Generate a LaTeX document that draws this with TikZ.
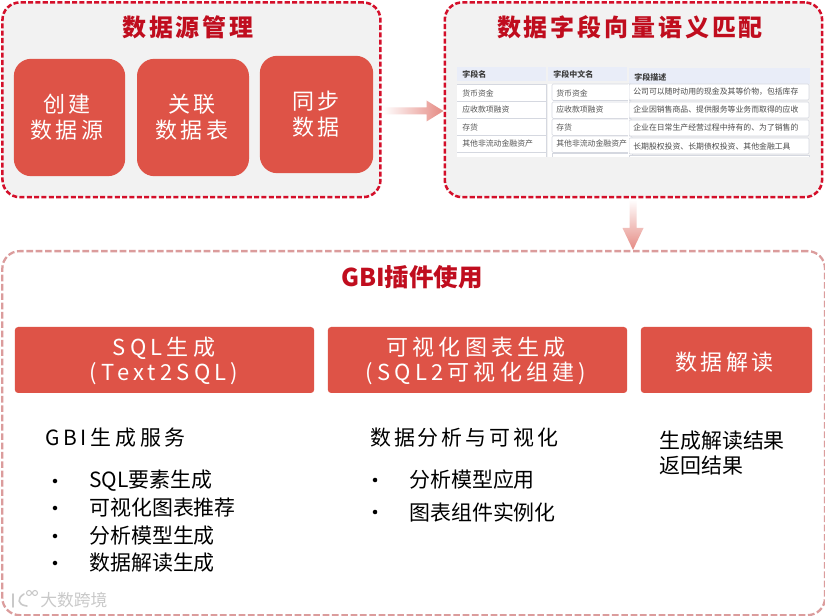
\documentclass[tikz,border=0pt]{standalone}
\usepackage{fontspec}
\setmainfont{Noto Sans CJK SC}
\newfontfamily\fsp[LetterSpace=14]{Noto Sans CJK SC}
\newfontfamily\fhd[LetterSpace=19]{Noto Sans CJK SC}
\newfontfamily\fgb[LetterSpace=18]{Noto Sans CJK SC}
\newfontfamily\ftt[LetterSpace=12]{Noto Sans CJK SC}
\usetikzlibrary{calc}
\definecolor{crim}{HTML}{D40F2A}
\definecolor{tomato}{HTML}{DE5347}
\definecolor{pale}{HTML}{DB9C9C}
\definecolor{panelgray}{HTML}{F2F2F2}
\definecolor{titlered}{HTML}{C00D1E}
\definecolor{thead}{HTML}{E9EDF8}
\definecolor{tline}{HTML}{D5D8E0}
\definecolor{ttext}{HTML}{555555}
\definecolor{wm}{HTML}{C9C9C9}
\definecolor{arrowred}{HTML}{E58A83}
\tikzset{
  x=0.75pt,y=-0.75pt,
  panel/.style={draw=crim,line width=1.9pt,dash pattern=on 3.8pt off 1.7pt,fill=panelgray,rounded corners=13pt},
  softpanel/.style={draw=pale,line width=1.7pt,dash pattern=on 5pt off 2pt,fill=white,rounded corners=13pt},
  redbox/.style={fill=tomato,rounded corners=13pt},
  headbox/.style={fill=tomato,rounded corners=2.5pt},
  boxtext/.style={text=white,align=center,font=\fsp\fontsize{16.5}{19.5}\selectfont,inner sep=0pt},
  headtext/.style={text=white,align=center,font=\fhd\fontsize{16.5}{18.8}\selectfont,inner sep=0pt},
  title/.style={text=titlered,font=\ftt\bfseries\fontsize{18}{20}\selectfont,inner sep=0pt},
  body/.style={anchor=west,text=black,inner sep=0pt,font=\fontsize{15.7}{18}\selectfont},
  bodysp/.style={anchor=west,text=black,inner sep=0pt,font=\fsp\fontsize{15.7}{18}\selectfont},
  bullet/.style={circle,fill=black,inner sep=0pt,minimum size=3.4pt},
  cell/.style={anchor=west,text=ttext,inner sep=0pt,font=\fontsize{5.9}{7}\selectfont},
  hcell/.style={anchor=west,text=black!75,inner sep=0pt,font=\bfseries\fontsize{6}{7}\selectfont},
  tablerow/.style={fill=white,draw=tline,line width=0.4pt},
}
\begin{document}
\begin{tikzpicture}
\useasboundingbox (0,0) rectangle (825,616);
\fill[white] (0,0) rectangle (825,616);
% panels
\node[panel,minimum width=283.5pt,minimum height=146pt,anchor=north west,inner sep=0pt] (src) at (1.2,1.2) {};
\node[panel,minimum width=283pt,minimum height=146pt,anchor=north west,inner sep=0pt] (match) at (443.5,1.2) {};
\node[softpanel,minimum width=617pt,minimum height=273pt,anchor=north west,inner sep=0pt] (gbi) at (1.2,250) {};
% titles
\node[title] (t1) at (188,27) {数据源管理};
\node[title] (t2) at (630,27) {数据字段向量语义匹配};
\node[title,font=\bfseries\fontsize{18.4}{20}\selectfont] (t3) at (412,277) {GBI插件使用};
% red boxes
\node[redbox,minimum width=83.5pt,minimum height=88pt,inner sep=0pt] (b1) at (69.5,117.5) {};
\node[boxtext] (b1t) at (67,117.5) {创建\\数据源};
\node[redbox,minimum width=84pt,minimum height=88pt,inner sep=0pt] (b2) at (193,117.5) {};
\node[boxtext] (b2t) at (192,117.5) {关联\\数据表};
\node[redbox,minimum width=85pt,minimum height=88pt,inner sep=0pt] (b3) at (316.5,114.5) {};
\node[boxtext] (b3t) at (316,114.5) {同步\\数据};
% table
\begin{scope}
\clip (457,66) rectangle (810,157);
\fill[white] (457,84) rectangle (546,157);
\fill[white] (548,84) rectangle (628,157);
\fill[thead] (457,67) rectangle (546,81);
\fill[thead] (548,67) rectangle (627,81);
\fill[thead] (629,68) rectangle (810,84);
\foreach \yy in {84,101.5,118.5,135.5,152} \draw[tline,line width=0.4pt] (457,\yy) -- (546,\yy);
\draw[tline,line width=0.4pt] (546.5,84) -- (546.5,157);
\foreach \yy in {84,102,119,136} \draw[tablerow,rounded corners=1pt] (552,\yy) rectangle (632,\yy+16.5);
\draw[tablerow] (552,153) rectangle (632,160);
\foreach \yy in {84,102,120,138} \draw[tablerow,rounded corners=1pt] (629,\yy) rectangle (809,\yy+16);
\draw[tablerow] (629,155) rectangle (809,162);
\fill[white] (628,84) rectangle (629,157);
\node[hcell] (h1) at (462,74) {字段名};
\node[hcell] (h2) at (553,74) {字段中文名};
\node[hcell] (h3) at (634,77) {字段描述};
\node[cell] (c11) at (462,93) {货币资金};
\node[cell] (c12) at (462,110) {应收款项融资};
\node[cell] (c13) at (462,127) {存货};
\node[cell] (c14) at (462,144) {其他非流动金融资产};
\end{scope}
\begin{scope}
\clip (548,84) rectangle (628,157);
\node[cell] (c21) at (556,93) {货币资金};
\node[cell] (c22) at (556,110) {应收款项融资};
\node[cell] (c23) at (556,127) {存货};
\node[cell] (c24) at (556,144) {其他非流动金融资产};
\end{scope}
\begin{scope}
\clip (629,84) rectangle (808,157);
\node[cell,text=black!70] (c31) at (633,92) {公司可以随时动用的现金及其等价物，包括库存};
\node[cell,text=black!70] (c32) at (633,110) {企业因销售商品、提供服务等业务而取得的应收};
\node[cell,text=black!70] (c33) at (633,128) {企业在日常生产经营过程中持有的、为了销售的};
\node[cell,text=black!70] (c34) at (633,146) {长期股权投资、长期债权投资、其他金融工具};
\end{scope}
% arrows
\coordinate (a1s) at (src.east |- 0,111);
\coordinate (a1e) at (match.west |- 0,111);
\shade[left color=white,right color=arrowred]
  ($(a1s)+(1,-3.5)$) -- ($(a1e)+(-17,-3.5)$) -- ($(a1e)+(-17,-10.5)$) -- (a1e) -- ($(a1e)+(-17,10.5)$) -- ($(a1e)+(-17,3.5)$) -- ($(a1s)+(1,3.5)$) -- cycle;
\coordinate (a2s) at (633,0 |- match.south);
\coordinate (a2e) at (633,0 |- gbi.north);
\shade[top color=white,bottom color=arrowred]
  ($(a2s)+(-3.5,1)$) -- ($(a2e)+(-3.5,-22)$) -- ($(a2e)+(-10.5,-22)$) -- (a2e) -- ($(a2e)+(10.5,-22)$) -- ($(a2e)+(3.5,-22)$) -- ($(a2s)+(3.5,1)$) -- cycle;
% headers
\node[headbox,minimum width=224.5pt,minimum height=49.5pt,inner sep=0pt] (h-a) at (164.5,360) {};
\node[headtext] (h-at) at (164,360.5) {SQL生成\\(Text2SQL)};
\node[headbox,minimum width=224.5pt,minimum height=49.5pt,inner sep=0pt] (h-b) at (477.5,360) {};
\node[headtext] (h-bt) at (476,360.5) {可视化图表生成\\(SQL2可视化组建)};
\node[headbox,minimum width=128.5pt,minimum height=49.5pt,inner sep=0pt] (h-c) at (726.5,360) {};
\node[headtext,font=\fsp\fontsize{16.5}{18.8}\selectfont] (h-ct) at (724.5,362) {数据解读};
% column 1
\node[bodysp,font=\fgb\fontsize{15.7}{18}\selectfont] (p1) at (45,438) {GBI生成服务};
\node[body] (p11) at (89,481) {SQL要素生成};
\node[body] (p12) at (89,508) {可视化图表推荐};
\node[body] (p13) at (89,536) {分析模型生成};
\node[body] (p14) at (89,563) {数据解读生成};
\node[bullet] (d11) at (55,481) {};
\node[bullet] (d12) at (55,508) {};
\node[bullet] (d13) at (55,536) {};
\node[bullet] (d14) at (55,563) {};
% column 2
\node[bodysp] (p2) at (370,438) {数据分析与可视化};
\node[body] (p21) at (409,480) {分析模型应用};
\node[body] (p22) at (409,512) {图表组件实例化};
\node[bullet] (d21) at (375,480) {};
\node[bullet] (d22) at (375,512) {};
% column 3
\node[body] (p31) at (659,440.5) {生成解读结果};
\node[body] (p32) at (659,465.5) {返回结果};
% watermark
\node[anchor=west,text=wm,inner sep=0pt,font=\fontsize{12.6}{14}\selectfont] (wmk) at (40,600) {大数跨境};
\draw[wm,line width=1.2pt,line cap=round] (13,594) -- (13,607) (24,594) .. controls (17,598) and (17,605) .. (27,606);
\draw[wm,line width=0.8pt] (29,593) circle (2.5) (35,593) circle (2.5);
\end{tikzpicture}
\end{document}
